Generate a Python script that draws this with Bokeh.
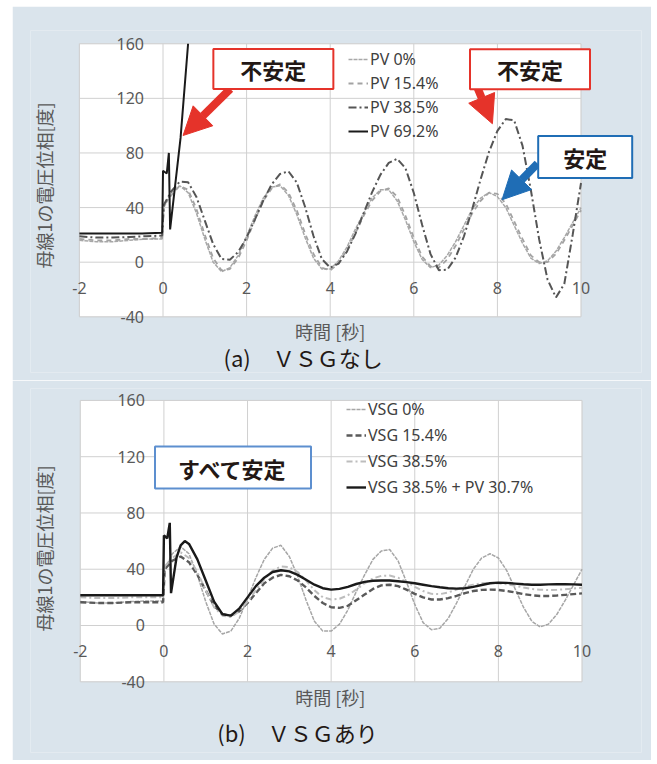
from bokeh.plotting import figure
from bokeh.models import (Range1d, FixedTicker, Legend, LegendItem,
                          Label, Arrow, NormalHead, BoxAnnotation)
from bokeh.layouts import column
from bokeh.embed import file_html
from bokeh.resources import INLINE

# ---------------- data ----------------
X_TICKS = [-2, 0, 2, 4, 6, 8, 10]
Y_TICKS = [-40, 0, 40, 80, 120, 160]
X_TITLE = "時間 [秒]"
Y_TITLE = "母線1の電圧位相[度]"
CAPTION_A = "(a)　ＶＳＧなし"
CAPTION_B = "(b)　ＶＳＧあり"

T = [-2.0, -1.6, -1.2, -0.8, -0.4, -0.02, 0.02,
     0.2, 0.4, 0.6, 0.8, 1.0, 1.2, 1.4, 1.6, 1.8, 2.0,
     2.2, 2.4, 2.6, 2.8, 3.0, 3.2, 3.4, 3.6, 3.8, 4.0,
     4.2, 4.4, 4.6, 4.8, 5.0, 5.2, 5.4, 5.6, 5.8, 6.0,
     6.2, 6.4, 6.6, 6.8, 7.0, 7.2, 7.4, 7.6, 7.8, 8.0,
     8.2, 8.4, 8.6, 8.8, 9.0, 9.2, 9.4, 9.6, 9.8, 10.0]

# (a) without VSG
PV0 = [16, 15, 15, 16, 17, 17, 40,
       51, 56, 51, 36, 17, 0, -7, -4, 5, 19,
       34, 47, 55, 56, 49, 35, 18, 3, -5, -5,
       1, 11, 24, 36, 47, 53, 53, 45, 31, 15,
       2, -4, -2, 5, 15, 27, 39, 47, 51, 48,
       40, 27, 14, 3, -1, 1, 8, 18, 29, 40]
PV15 = [17, 16, 16, 17, 17, 18, 42,
        49, 56, 53, 39, 20, 3, -6, -5, 3, 16,
        31, 45, 54, 57, 51, 38, 21, 6, -4, -6,
        -1, 9, 21, 34, 45, 52, 54, 48, 34, 18,
        4, -3, -4, 2, 12, 24, 36, 45, 51, 50,
        43, 30, 17, 5, 0, 0, 6, 16, 27, 38]
PV38 = [19, 18, 18, 18.5, 19, 19.5, 42,
        52, 59, 58.6, 47.8, 30.5, 13.2, 2.4, 1.8, 7.5, 18,
        31.4, 45.2, 57, 64.6, 66.6, 58.4, 40.4, 19.2, 2.3, -4,
        -1, 7.7, 20.6, 35.9, 51.1, 64, 72.7, 75.7, 68.9, 50.7,
        27.2, 5.9, -5.9, -5.5, 3.4, 19, 39.2, 60.9, 80.9, 96.2,
        104.8, 103.9, 85.4, 52.9, 16.5, -12.8, -25.8, -16, 20, 58]
T_PV69 = [-2.0, -1.5, -1.0, -0.5, -0.02, 0.0, 0.09, 0.14, 0.17, 0.42, 0.6]
PV69 = [21, 21, 21, 21, 21.5, 67, 65, 80, 24, 91, 160]

# (b) with VSG
VSG0 = [17, 16, 16, 17, 17.5, 17.5, 40,
        51, 56, 51, 36, 17, 1, -6, -4, 5, 19,
        34, 47, 55, 57, 49, 35, 18, 3, -4, -4,
        1, 11, 24, 36, 47, 53, 54, 46, 31, 15,
        2, -3, -2, 5, 16, 28, 40, 48, 51, 48,
        39, 26, 13, 3, -1, 1, 8, 18, 29, 40]
VSG15 = [16.5, 16, 16, 16.5, 16.5, 16.5, 40,
         46, 49, 45, 36, 25, 14, 8, 7, 10, 16,
         23, 30, 34, 36, 35, 32, 27, 21, 16, 13,
         12.5, 14, 18, 22, 26, 28.5, 29, 28, 25.5, 22.5,
         20, 18.5, 18.5, 19.5, 21, 23, 24.5, 25.3, 25.5, 25.3,
         24.5, 23.5, 22.3, 21.5, 21, 21, 21.3, 21.8, 22.3, 22.8]
VSG38 = [20, 19.5, 19.5, 20, 20, 20, 42,
         48, 52, 48, 38, 25, 13, 7, 6, 10, 17,
         25, 33, 39, 42, 41.5, 38, 32, 25, 20, 18.5,
         19, 21.5, 25.5, 30, 33.5, 35.3, 35.5, 34, 31, 27.5,
         24.5, 22.5, 22.3, 23.5, 25.5, 27.5, 29, 30, 30.2, 30,
         29.3, 28.3, 27, 26, 25.4, 25.2, 25.4, 25.8, 26.3, 26.8]
T_MIX = [-2.0, -1.5, -1.0, -0.5, -0.02, 0.0, 0.08, 0.14, 0.17, 0.3, 0.4, 0.5,
         0.6, 0.8, 1.0, 1.2, 1.4, 1.6, 1.8, 2.0,
         2.2, 2.4, 2.6, 2.8, 3.0, 3.2, 3.4, 3.6, 3.8, 4.0,
         4.2, 4.4, 4.6, 4.8, 5.0, 5.2, 5.4, 5.6, 5.8, 6.0,
         6.2, 6.4, 6.6, 6.8, 7.0, 7.2, 7.4, 7.6, 7.8, 8.0,
         8.2, 8.4, 8.6, 8.8, 9.0, 9.2, 9.4, 9.6, 9.8, 10.0]
MIX = [21.5, 21.5, 21.5, 21.5, 21.5, 64, 62, 73, 23, 48, 57, 60,
       58, 47, 32, 17, 8, 7, 12, 20,
       28, 34, 38, 39.3, 38.5, 36, 32.5, 29, 26.5, 25.5,
       26, 27.5, 29.5, 31, 31.8, 32, 32, 31.5, 30.8, 30,
       29, 28, 27.2, 26.5, 26.2, 26.5, 27.5, 28.8, 30, 30.5,
       30.3, 29.8, 29.3, 29, 29, 29.2, 29.3, 29.3, 29.2, 29]

# ---------------- style ----------------
PANEL = "#dae4ec"
GRID = "#d0d0d0"
TICK_COLOR = "#595959"
TEXT_DARK = "#231815"
RED = "#e5332a"
BLUE = "#1f6db5"
BLUE_LIGHT = "#5d8fcf"
JP = "Noto Sans CJK JP"
LAT = "Noto Sans"


def make_panel(height, x_rng, y_rng, b_top, b_bottom, margin):
    p = figure(width=639, height=height,
               x_range=Range1d(*x_rng), y_range=Range1d(*y_rng),
               output_backend="svg", toolbar_location=None,
               min_border_top=b_top, min_border_bottom=b_bottom,
               min_border_left=18, min_border_right=10, margin=margin)
    p.border_fill_color = PANEL
    p.background_fill_color = PANEL
    p.outline_line_color = None
    p.xgrid.visible = False
    p.ygrid.visible = False

    # white plot area + grid, drawn on the data scales
    p.add_layout(BoxAnnotation(left=X_TICKS[0], right=X_TICKS[-1],
                               bottom=Y_TICKS[0], top=Y_TICKS[-1],
                               fill_color="white", fill_alpha=1,
                               line_color=GRID, line_width=1, level="image"))
    p.segment(x0=X_TICKS, y0=Y_TICKS[0], x1=X_TICKS, y1=Y_TICKS[-1],
              line_color=GRID, line_width=1, level="underlay")
    p.segment(x0=X_TICKS[0], y0=Y_TICKS, x1=X_TICKS[-1], y1=Y_TICKS,
              line_color=GRID, line_width=1, level="underlay")

    xa = p.xaxis[0]
    ya = p.yaxis[0]
    xa.ticker = FixedTicker(ticks=X_TICKS)
    ya.ticker = FixedTicker(ticks=Y_TICKS)
    xa.major_label_overrides = {t: str(t) for t in X_TICKS}
    ya.major_label_overrides = {t: str(t) for t in Y_TICKS}
    xa.fixed_location = 0
    ya.fixed_location = 0
    for ax in (xa, ya):
        ax.axis_line_color = None
        ax.major_tick_out = 0
        ax.major_tick_in = 0
        ax.minor_tick_out = 0
        ax.minor_tick_in = 0
        ax.major_label_text_font = LAT
        ax.major_label_text_font_size = "16px"
        ax.major_label_text_color = TICK_COLOR
    xa.major_label_standoff = 20
    ya.major_label_standoff = 19
    return p


def text_label(p, x, y, text, size, color, align="center", angle=0):
    p.add_layout(Label(x=x, y=y, text=text, text_align=align, text_baseline="middle",
                       angle=angle, angle_units="deg",
                       text_font=JP, text_font_size=size, text_color=color))


def box_label(p, x, y, text, border, pad_x, pad_y):
    p.add_layout(Label(x=x, y=y, text=text, text_align="center", text_baseline="middle",
                       text_font=JP, text_font_size="22px", text_font_style="bold",
                       text_color=TEXT_DARK, background_fill_color="white",
                       border_line_color=border, border_line_width=2,
                       padding=dict(left=pad_x, right=pad_x, top=pad_y, bottom=pad_y)))


def arrow(p, x0, y0, x1, y1, color):
    p.add_layout(Arrow(end=NormalHead(size=28, fill_color=color, line_color=color, line_width=1),
                       x_start=x0, y_start=y0, x_end=x1, y_end=y1,
                       line_color=color, line_width=8))


def legend(p, items, loc, row_h):
    lg = Legend(items=[LegendItem(label=l, renderers=[r]) for l, r in items],
                location=loc, orientation="vertical",
                label_text_font=LAT, label_text_font_size="16px",
                label_text_color="#404040",
                glyph_width=20, glyph_height=18, label_height=row_h,
                label_standoff=2, spacing=0, padding=0, margin=0,
                border_line_color=None, background_fill_alpha=0)
    p.add_layout(lg)


# ---------------- (a) ----------------
p1 = make_panel(374, (-3.170, 11.447), (-80.8, 169.7), 24, 8, (6, 6, 0, 12))
ra0 = p1.line(T, PV0, line_color="#a8a8a8", line_width=1.5, line_dash="4 1")
ra1 = p1.line(T, PV15, line_color="#a3a3a3", line_width=1.8, line_dash="5 4")
ra2 = p1.line(T, PV38, line_color="#555555", line_width=2, line_dash="8 3 2 3")
ra3 = p1.line(T_PV69, PV69, line_color="#1a1a1a", line_width=2)
legend(p1, [("PV 0%", ra0), ("PV 15.4%", ra1), ("PV 38.5%", ra2), ("PV 69.2%", ra3)],
       (318, 229), 24)

arrow(p1, 1.61, 127, 0.48, 92.8, RED)
arrow(p1, 7.52, 128, 7.88, 101.4, RED)
arrow(p1, 8.96, 72.3, 8.11, 45.7, BLUE)
box_label(p1, 2.64, 141.5, "不安定", RED, 27, 4)
box_label(p1, 8.78, 141.4, "不安定", RED, 27, 4)
box_label(p1, 10.1, 77, "安定", BLUE, 25, 5)

text_label(p1, 4.0, -50.5, X_TITLE, "18px", TICK_COLOR)
text_label(p1, -2.859, 56.2, Y_TITLE, "18px", TICK_COLOR, angle=90)
text_label(p1, 1.447, -69.8, CAPTION_A, "22px", TEXT_DARK, align="left")

# ---------------- (b) ----------------
p2 = make_panel(380, (-3.191, 11.423), (-90.3, 168.5), 8, 8, (0, 6, 0, 12))
rb0 = p2.line(T, VSG0, line_color="#a6a6a6", line_width=1.5, line_dash="4 1")
rb1 = p2.line(T, VSG15, line_color="#5a5a5a", line_width=2.4, line_dash="6 3")
rb2 = p2.line(T, VSG38, line_color="#bdbdbd", line_width=2, line_dash="6 3 2 3")
rb3 = p2.line(T_MIX, MIX, line_color="#1a1a1a", line_width=2.4)
legend(p2, [("VSG 0%", rb0), ("VSG 15.4%", rb1), ("VSG 38.5%", rb2),
            ("VSG 38.5% + PV 30.7%", rb3)], (316, 252), 26)
box_label(p2, 1.653, 112.3, "すべて安定", BLUE_LIGHT, 23, 5)

text_label(p2, 3.98, -50.5, X_TITLE, "18px", TICK_COLOR)
text_label(p2, -2.88, 54.8, Y_TITLE, "18px", TICK_COLOR, angle=90)
text_label(p2, 1.275, -75.4, CAPTION_B, "22px", TEXT_DARK, align="left")

layout = column(p1, p2, spacing=0)
open("out.html", "w").write(file_html(layout, INLINE))
